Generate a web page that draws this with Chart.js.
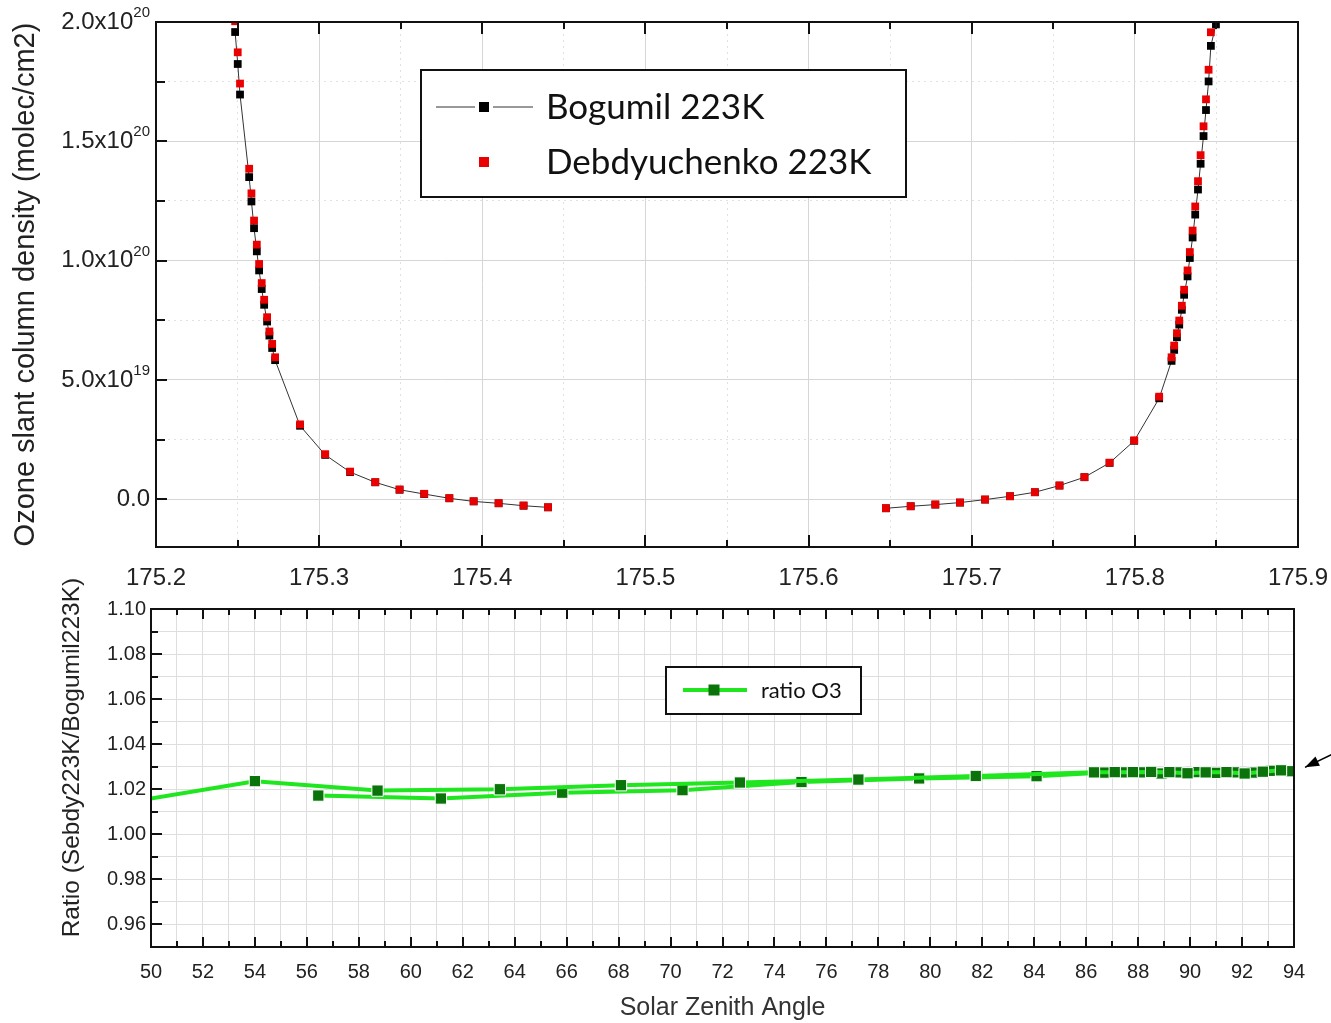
<!DOCTYPE html>
<html>
<head>
<meta charset="utf-8">
<script src="https://cdn.jsdelivr.net/npm/chart.js@4.4.1/dist/chart.umd.min.js"></script>
<style>
  html, body { margin: 0; padding: 0; background: #fff; }
  #wrap { position: relative; width: 1331px; height: 1023px; overflow: hidden; }
  canvas { position: absolute; left: 0; }
  #top { top: 0; }
  #bottom { top: 560px; }
</style>
</head>
<body>
<div id="wrap">
  <canvas id="top" width="1331" height="600"></canvas>
  <canvas id="bottom" width="1331" height="463"></canvas>
</div>
<script>
// ---------------------------------------------------------------------------
// Top panel: ozone slant column density, two cross-sections (223K)
// ---------------------------------------------------------------------------
const leftX = [175.2485, 175.2501, 175.2515, 175.2571, 175.2585, 175.2601, 175.2618, 175.2632,
  175.2648, 175.2663, 175.2681, 175.2695, 175.2712, 175.2730, 175.2883, 175.3037, 175.3190,
  175.3344, 175.3493, 175.3644, 175.3798, 175.3947, 175.4100, 175.4253, 175.4403];
const leftBogumil = [1.958e20, 1.824e20, 1.696e20, 1.350e20, 1.248e20, 1.136e20, 1.039e20, 9.59e19,
  8.81e19, 8.15e19, 7.45e19, 6.86e19, 6.34e19, 5.83e19, 3.08e19, 1.86e19, 1.14e19,
  7.1e18, 4.0e18, 2.2e18, 4e17, -9e17, -1.7e18, -2.7e18, -3.4e18];
const leftDebdy = [2.003e20, 1.873e20, 1.742e20, 1.385e20, 1.282e20, 1.168e20, 1.067e20, 9.86e19,
  9.06e19, 8.36e19, 7.63e19, 7.03e19, 6.51e19, 5.95e19, 3.14e19, 1.89e19, 1.16e19,
  7.2e18, 4.1e18, 2.3e18, 5e17, -8e17, -1.6e18, -2.6e18, -3.3e18];

const rightX = [175.6474, 175.6626, 175.6777, 175.6928, 175.7082, 175.7235, 175.7387, 175.7538,
  175.7691, 175.7845, 175.7996, 175.8149, 175.8225, 175.8241, 175.8258, 175.8272, 175.8288,
  175.8302, 175.8323, 175.8337, 175.8354, 175.8370, 175.8387, 175.8403, 175.8421, 175.8436,
  175.8452, 175.8466, 175.8497];
const rightBogumil = [-3.78e18, -2.94e18, -2.23e18, -1.39e18, -1.3e17, 1.26e18, 2.94e18, 5.74e18,
  9.24e18, 1.525e19, 2.45e19, 4.23e19, 5.80e19, 6.26e19, 6.79e19, 7.32e19, 7.94e19,
  8.57e19, 9.34e19, 1.011e20, 1.097e20, 1.193e20, 1.298e20, 1.406e20, 1.522e20, 1.631e20,
  1.751e20, 1.900e20, 1.99e20];
const rightDebdy = [-3.72e18, -2.90e18, -2.18e18, -1.35e18, -1.0e17, 1.30e18, 2.98e18, 5.78e18,
  9.30e18, 1.535e19, 2.47e19, 4.30e19, 5.95e19, 6.44e19, 6.96e19, 7.49e19, 8.11e19,
  8.78e19, 9.59e19, 1.036e20, 1.126e20, 1.227e20, 1.333e20, 1.442e20, 1.563e20, 1.676e20,
  1.800e20, 1.957e20, 2.05e20];

const topXTicks = [175.2, 175.3, 175.4, 175.5, 175.6, 175.7, 175.8, 175.9];
const topXLabels = ["175.2", "175.3", "175.4", "175.5", "175.6", "175.7", "175.8", "175.9"];
const topYTicks = [0, 5e19, 1e20, 1.5e20, 2e20];
// "^" separates the mantissa part from the superscript exponent
const topYLabels = ["0.0", "5.0x10^19", "1.0x10^20", "1.5x10^20", "2.0x10^20"];

// ---------------------------------------------------------------------------
// Bottom panel: ratio Debdyuchenko / Bogumil vs solar zenith angle
// ---------------------------------------------------------------------------
const amSza = [49.3, 54.0, 58.72, 63.43, 68.09, 72.67, 77.23, 81.75, 86.3, 87.1, 87.8, 88.5,
  89.2, 89.9, 90.6, 91.4, 92.1, 92.8, 93.5];
const amRatio = [1.0146, 1.0236, 1.0194, 1.0200, 1.0218, 1.0230, 1.0243, 1.0259, 1.0275, 1.0276,
  1.0276, 1.0277, 1.0276, 1.0271, 1.0275, 1.0276, 1.0270, 1.0278, 1.0284];
const pmSza = [56.44, 61.16, 65.83, 70.46, 75.04, 79.57, 84.09, 86.7, 87.4, 88.1, 88.9, 89.6,
  90.3, 91.0, 91.7, 92.4, 93.1, 93.9];
const pmRatio = [1.0172, 1.0159, 1.0185, 1.0196, 1.0232, 1.0248, 1.0258, 1.0274, 1.0275, 1.0275,
  1.0270, 1.0275, 1.0276, 1.0273, 1.0275, 1.0274, 1.0282, 1.0280];

const botXTicks = [50, 52, 54, 56, 58, 60, 62, 64, 66, 68, 70, 72, 74, 76, 78, 80, 82, 84, 86, 88, 90, 92, 94];
const botXLabels = botXTicks.map(String);
const botYTicks = [0.96, 0.98, 1.00, 1.02, 1.04, 1.06, 1.08, 1.10];
const botYLabels = ["0.96", "0.98", "1.00", "1.02", "1.04", "1.06", "1.08", "1.10"];

// ---------------------------------------------------------------------------
// helpers
// ---------------------------------------------------------------------------
const AXIS_FONT = "'Liberation Sans', Arial, sans-serif";
const LEGEND_FONT = "Lato, 'Open Sans', sans-serif";

const toPoints = (xs, ys) => xs.map((x, i) => ({ x, y: ys[i] }));

// major ticks plus a minor tick half-way between them
function withMinor(majors, min, max) {
  const half = (majors[1] - majors[0]) / 2;
  const out = [];
  const k0 = Math.ceil((min - majors[0]) / half - 1e-9);
  for (let k = k0; majors[0] + k * half <= max + half * 1e-9; k++) {
    out.push(majors[0] + k * half);
  }
  return out;
}
function majorIndex(majors, v) {
  const tol = Math.abs(majors[1] - majors[0]) * 1e-6;
  return majors.findIndex((m) => Math.abs(m - v) < tol);
}
// keep the plot area exactly where the layout padding puts it
const noOverhang = (s) => { s.paddingLeft = 0; s.paddingRight = 0; s.paddingTop = 0; s.paddingBottom = 0; };

// frame + inward tick marks (Origin style)
const frameTicks = {
  id: "frameTicks",
  afterDraw(chart, args, opts) {
    const { ctx, chartArea: a, scales } = chart;
    ctx.save();
    ctx.strokeStyle = "#111";
    ctx.lineWidth = 2;
    const xs = scales.x, ys = scales.y;
    xs.ticks.forEach((t) => {
      const px = Math.round(xs.getPixelForValue(t.value));
      const len = majorIndex(opts.xMajors, t.value) >= 0 ? opts.xMajorLen : opts.xMinorLen;
      ctx.beginPath();
      ctx.moveTo(px, a.bottom); ctx.lineTo(px, a.bottom - len);
      ctx.moveTo(px, a.top); ctx.lineTo(px, a.top + len);
      ctx.stroke();
    });
    ys.ticks.forEach((t) => {
      const py = Math.round(ys.getPixelForValue(t.value));
      const len = majorIndex(opts.yMajors, t.value) >= 0 ? opts.yMajorLen : opts.yMinorLen;
      ctx.beginPath();
      ctx.moveTo(a.left, py); ctx.lineTo(a.left + len, py);
      ctx.stroke();
    });
    ctx.strokeRect(a.left, a.top, a.right - a.left, a.bottom - a.top);
    ctx.restore();
  },
};

// y tick labels written as mantissa x 10 with a raised exponent
const sciLabels = {
  id: "sciLabels",
  afterDraw(chart, args, o) {
    const { ctx, chartArea: a, scales } = chart;
    ctx.save();
    ctx.fillStyle = "#222";
    ctx.textBaseline = "middle";
    ctx.textAlign = "right";
    o.values.forEach((v, i) => {
      const [base, exp] = o.labels[i].split("^");
      const py = scales.y.getPixelForValue(v);
      let x = a.left - o.gap;
      if (exp) {
        ctx.font = o.expSize + "px " + AXIS_FONT;
        ctx.fillText(exp, x, py - o.raise);
        x -= ctx.measureText(exp).width;
      }
      ctx.font = o.size + "px " + AXIS_FONT;
      ctx.fillText(base, x, py);
    });
    ctx.restore();
  },
};

// boxed legend inside the plot, drawn from the dataset styles
const boxLegend = {
  id: "boxLegend",
  afterDraw(chart, args, o) {
    const { ctx, chartArea: a } = chart;
    const x0 = a.left + o.left, y0 = a.top + o.top;
    ctx.save();
    ctx.fillStyle = "#fff";
    ctx.fillRect(x0, y0, o.width, o.height);
    ctx.lineWidth = 2;
    ctx.strokeStyle = "#111";
    ctx.strokeRect(x0, y0, o.width, o.height);
    o.items.forEach((dsIndex, i) => {
      const ds = chart.data.datasets[dsIndex];
      const y = y0 + o.firstRow + i * o.rowGap;
      const mx = x0 + o.markerX;
      if (ds.showLine) {
        ctx.strokeStyle = ds.borderColor;
        ctx.lineWidth = ds.borderWidth;
        ctx.beginPath();
        ctx.moveTo(x0 + o.lineFrom, y); ctx.lineTo(mx - o.lineGap, y);
        ctx.moveTo(mx + o.lineGap, y); ctx.lineTo(x0 + o.lineTo, y);
        ctx.stroke();
      }
      ctx.fillStyle = ds.pointBackgroundColor;
      ctx.fillRect(mx - o.marker / 2, y - o.marker / 2, o.marker, o.marker);
      ctx.fillStyle = "#111";
      ctx.font = o.fontSize + "px " + LEGEND_FONT;
      ctx.textBaseline = "middle";
      ctx.textAlign = "left";
      ctx.fillText(ds.label, x0 + o.textX, y + 1);
    });
    ctx.restore();
  },
};

// small annotation arrow pointing at the last ratio value
const arrowNote = {
  id: "arrowNote",
  afterDraw(chart) {
    const { ctx, chartArea: a, scales } = chart;
    const tipX = a.right + 11;
    const tipY = scales.y.getPixelForValue(amRatio[amRatio.length - 1]) - 3;
    const tailX = a.right + 38, tailY = tipY - 13;
    const ang = Math.atan2(tipY - tailY, tipX - tailX);
    ctx.save();
    ctx.strokeStyle = "#000";
    ctx.fillStyle = "#000";
    ctx.lineWidth = 1.5;
    ctx.beginPath();
    ctx.moveTo(tailX, tailY); ctx.lineTo(tipX, tipY);
    ctx.stroke();
    ctx.beginPath();
    ctx.moveTo(tipX, tipY);
    ctx.lineTo(tipX - 15 * Math.cos(ang - 0.35), tipY - 15 * Math.sin(ang - 0.35));
    ctx.lineTo(tipX - 15 * Math.cos(ang + 0.35), tipY - 15 * Math.sin(ang + 0.35));
    ctx.closePath();
    ctx.fill();
    ctx.restore();
  },
};

// ---------------------------------------------------------------------------
// Top chart
// ---------------------------------------------------------------------------
const topXAll = withMinor(topXTicks, 175.2, 175.9);
const topYAll = withMinor(topYTicks, -2e19, 2e20);
const gap = { x: (175.4403 + 175.6474) / 2, y: null };

new Chart(document.getElementById("top"), {
  type: "scatter",
  data: {
    datasets: [
      {
        label: "Bogumil 223K",
        data: [...toPoints(leftX, leftBogumil), gap, ...toPoints(rightX, rightBogumil)],
        showLine: true,
        spanGaps: false,
        borderColor: "#333",
        borderWidth: 1,
        pointStyle: "rect",
        pointRadius: 5.5,
        pointBackgroundColor: "#000",
        pointBorderWidth: 0,
        order: 1,
      },
      {
        label: "Debdyuchenko 223K",
        data: [...toPoints(leftX, leftDebdy), ...toPoints(rightX, rightDebdy)],
        showLine: false,
        pointStyle: "rect",
        pointRadius: 5.5,
        pointBackgroundColor: "#ea0000",
        pointBorderWidth: 0,
        order: 0,
      },
    ],
  },
  options: {
    responsive: false,
    animation: false,
    layout: { padding: { top: 22, right: 33, left: 0, bottom: 0 } },
    plugins: {
      legend: { display: false },
      tooltip: { enabled: false },
      frameTicks: { xMajors: topXTicks, yMajors: topYTicks, xMajorLen: 12, xMinorLen: 7, yMajorLen: 11, yMinorLen: 9 },
      sciLabels: { values: topYTicks, labels: topYLabels, size: 24, expSize: 15, raise: 9, gap: 6 },
      boxLegend: {
        items: [0, 1], left: 265, top: 48, width: 485, height: 127,
        firstRow: 37, rowGap: 55, lineFrom: 15, lineTo: 112, markerX: 63, lineGap: 9,
        marker: 10, textX: 125, fontSize: 35,
      },
    },
    scales: {
      x: {
        type: "linear", min: 175.2, max: 175.9,
        afterBuildTicks: (s) => { s.ticks = topXAll.map((v) => ({ value: v })); },
        afterFit: (s) => { s.height = 53; noOverhang(s); },
        ticks: {
          autoSkip: false, maxRotation: 0, minRotation: 0, padding: 17,
          color: "#222", font: { family: AXIS_FONT, size: 24 },
          callback: (v) => { const i = majorIndex(topXTicks, v); return i >= 0 ? topXLabels[i] : ""; },
        },
        grid: {
          drawTicks: false,
          color: (c) => (c.tick && majorIndex(topXTicks, c.tick.value) >= 0 ? "#d6d6d6" : "#e2e2e2"),
        },
        border: {
          display: false,
          dash: (c) => (c.tick && majorIndex(topXTicks, c.tick.value) < 0 ? [2, 4] : []),
        },
      },
      y: {
        type: "linear", min: -2e19, max: 2e20,
        afterBuildTicks: (s) => { s.ticks = topYAll.map((v) => ({ value: v })); },
        afterFit: (s) => { s.width = 156; noOverhang(s); },
        ticks: { display: false },
        grid: {
          drawTicks: false,
          color: (c) => (c.tick && majorIndex(topYTicks, c.tick.value) >= 0 ? "#d6d6d6" : "#e2e2e2"),
        },
        border: {
          display: false,
          dash: (c) => (c.tick && majorIndex(topYTicks, c.tick.value) < 0 ? [2, 4] : []),
        },
        title: {
          display: true,
          text: "Ozone slant column density (molec/cm2)",
          color: "#222",
          font: { family: AXIS_FONT, size: 29 },
          padding: { top: 9, bottom: 0 },
        },
      },
    },
  },
  plugins: [frameTicks, sciLabels, boxLegend],
});

// ---------------------------------------------------------------------------
// Bottom chart
// ---------------------------------------------------------------------------
const botXAll = withMinor(botXTicks, 50, 94);
const botYAll = withMinor(botYTicks, 0.95, 1.10);
const ratioStyle = {
  showLine: true,
  borderColor: "#1fe61f",
  borderWidth: 4,
  tension: 0,
  pointStyle: "rect",
  pointRadius: 8,
  pointBackgroundColor: "#0a730a",
  pointBorderColor: "#ffffff",
  pointBorderWidth: 1,
};

new Chart(document.getElementById("bottom"), {
  type: "scatter",
  data: {
    datasets: [
      { label: "ratio O3", data: toPoints(amSza, amRatio), ...ratioStyle },
      { label: "ratio O3 (pm)", data: toPoints(pmSza, pmRatio), ...ratioStyle },
    ],
  },
  options: {
    responsive: false,
    animation: false,
    layout: { padding: { top: 49, right: 37, left: 0, bottom: 0 } },
    plugins: {
      legend: { display: false },
      tooltip: { enabled: false },
      frameTicks: { xMajors: botXTicks, yMajors: botYTicks, xMajorLen: 10, xMinorLen: 6, yMajorLen: 11, yMinorLen: 7 },
      boxLegend: {
        items: [0], left: 515, top: 58, width: 195, height: 47,
        firstRow: 23, rowGap: 0, lineFrom: 17, lineTo: 81, markerX: 48, lineGap: 0,
        marker: 11, textX: 95, fontSize: 22,
      },
    },
    scales: {
      x: {
        type: "linear", min: 50, max: 94,
        afterBuildTicks: (s) => { s.ticks = botXAll.map((v) => ({ value: v })); },
        afterFit: (s) => { s.height = 76; noOverhang(s); },
        ticks: {
          autoSkip: false, maxRotation: 0, minRotation: 0, padding: 13,
          color: "#222", font: { family: AXIS_FONT, size: 20 },
          callback: (v) => { const i = majorIndex(botXTicks, v); return i >= 0 ? botXLabels[i] : ""; },
        },
        grid: { drawTicks: false, color: "#dedede" },
        border: { display: false },
        title: {
          display: true,
          text: "Solar Zenith Angle",
          color: "#333",
          font: { family: AXIS_FONT, size: 25 },
          padding: { top: 0, bottom: 0 },
        },
      },
      y: {
        type: "linear", min: 0.95, max: 1.10,
        afterBuildTicks: (s) => { s.ticks = botYAll.map((v) => ({ value: v })); },
        afterFit: (s) => { s.width = 151; noOverhang(s); },
        ticks: {
          autoSkip: false, padding: 5,
          color: "#222", font: { family: AXIS_FONT, size: 20 },
          callback: (v) => { const i = majorIndex(botYTicks, v); return i >= 0 ? botYLabels[i] : ""; },
        },
        grid: { drawTicks: false, color: "#dedede" },
        border: { display: false },
        title: {
          display: true,
          text: "      Ratio (Sebdy223K/Bogumil223K)",
          color: "#222",
          font: { family: AXIS_FONT, size: 24.5 },
          padding: { top: 58, bottom: 0 },
        },
      },
    },
  },
  plugins: [frameTicks, boxLegend, arrowNote],
});
</script>
</body>
</html>
